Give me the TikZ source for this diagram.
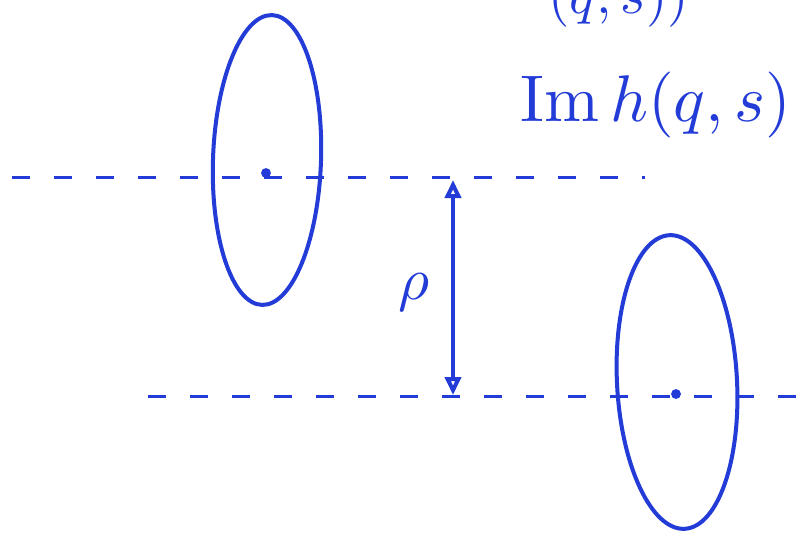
\documentclass[tikz,border=0pt]{standalone}
\usetikzlibrary{arrows.meta}
\definecolor{ink}{RGB}{35,60,215}
\begin{document}
\begin{tikzpicture}[x=1pt,y=-1pt,
  pen/.style={draw=ink,line width=4pt,line cap=round},
  axis/.style={draw=ink,line width=3pt,dash pattern=on 18pt off 24pt},
  txt/.style={text=ink,anchor=base west,inner sep=0pt}]
\useasboundingbox (0,0) rectangle (810,540);
\clip (0,0) rectangle (810,540);
\fill[white] (0,0) rectangle (810,540);
% axes
\coordinate (a1) at (12,177);
\coordinate (a2) at (645,177);
\coordinate (b1) at (148,396);
\coordinate (b2) at (810,396);
\draw[axis] (a1) -- (a2);
\draw[axis] (b1) -- (b2);
% rings
\draw[pen,rotate around={-2:(267,160)}] (267,160) ellipse [x radius=54, y radius=145];
\draw[pen,rotate around={3:(677,382)}] (677,382) ellipse [x radius=60, y radius=147];
\node[circle,fill=ink,inner sep=3.5pt] (c1) at (266,173) {};
\node[circle,fill=ink,inner sep=3.5pt] (c2) at (676,394) {};
% distance arrow
\coordinate (t) at (453,180);
\coordinate (u) at (453,395);
\draw[pen,{Triangle[open,length=18pt,width=16pt]}-{Triangle[open,length=18pt,width=16pt]}] (t) -- (u);
\node[text=ink] (rho) at (414,292) {\scalebox{6}{$\rho$}};
% texts
\node[txt] (im) at (520,122) {\scalebox{6.6}{$\mathrm{Im}\,h(q,s)$}};
\node[txt] (re) at (548,14) {\scalebox{5.5}{$(q,s))$}};
\end{tikzpicture}
\end{document}
